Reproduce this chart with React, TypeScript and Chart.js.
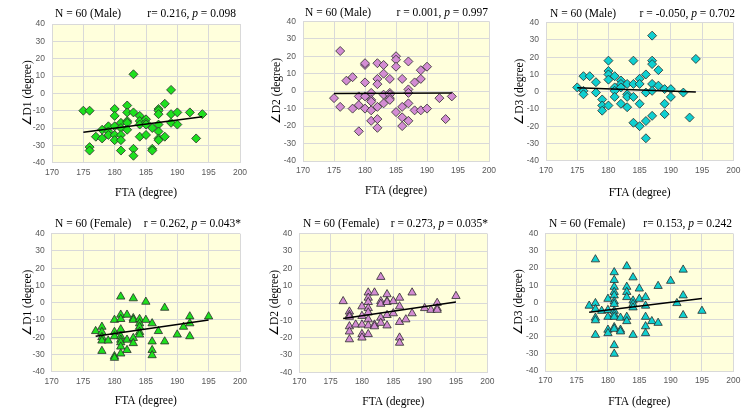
import React, { useEffect, useRef } from "react";
import { Chart, registerables } from "chart.js";
Chart.register(...registerables);

// ---------- data ----------
const xTicksMin = 170;
const xTicksMax = 200;
const xStep = 5;
const yTicksMin = -40;
const yTicksMax = 40;
const yStep = 10;

const maleD1_FTA = [175,176,176,176,177,178,178,179,179,179,180,180,180,180,180,181,181,181,181,181,182,182,182,182,182,183,183,183,183,184,184,184,184,185,185,185,185,186,186,186,187,187,187,187,187,187,187,188,188,189,189,189,190,190,192,193,194];
const maleD1 = [-10,-10,-31,-33,-25,-21,-26,-19,-22,-24,-9,-13,-19,-24,-27,-17,-20,-24,-27,-33,-7,-11,-16,-17,-21,11,-11,-32,-36,-13,-16,-18,-25,-15,-17,-18,-24,-20,-32,-33,-9,-10,-12,-18,-22,-26,-27,-6,-25,2,-12,-17,-11,-18,-11,-26,-12];
const maleD1TrendX = [175, 194];
const maleD1TrendY = [-22.5, -13.5];

const maleD2_FTA = [175,176,176,177,178,178,179,179,179,180,180,180,180,180,181,181,181,181,181,182,182,182,182,182,182,183,183,183,183,184,184,184,184,184,185,185,185,185,186,186,186,186,187,187,187,187,187,188,188,189,189,189,190,190,192,193,194];
const maleD2 = [-4,23,-9,6,8,-10,-3,-8,-23,15,16,5,-3,-10,-1,-5,-6,-11,-17,16,7,4,-9,-16,-21,15,10,-2,-7,7,-1,-2,-4,-5,20,18,14,-12,7,-9,-15,-20,17,1,-1,-7,-17,5,-11,12,7,-11,14,-10,-4,-16,-3];
const maleD2TrendX = [175, 194];
const maleD2TrendY = [-1.3, -1.0];

const maleD3_FTA = [175,176,176,176,177,178,178,179,179,179,180,180,180,180,180,181,181,181,181,182,182,182,182,183,183,183,183,184,184,184,184,185,185,185,185,186,186,186,186,187,187,187,187,187,187,188,188,189,189,189,190,190,192,193,194];
const maleD3 = [2.5,9,0.5,-1.5,9,5.5,-0.5,-4.5,-8,-11,18,12,10,7,-8,9,2.5,0.5,-3,6.5,4.5,2.5,-7,4.5,-1.5,-3,-9,18,4.5,-3,-18,7.5,4.5,-7,-20,10,-0.5,-17,-27,32.5,18,16,4.5,0.5,-14,12.5,3.5,1.5,-7,-13,1.5,-3,-0.5,-15,19];
const maleD3TrendX = [175, 194];
const maleD3TrendY = [2.3, -0.2];

const femaleD1_FTA = [177,178,178,178,178,178,179,180,180,180,180,180,181,181,181,181,181,181,181,181,181,182,182,182,183,183,183,183,183,184,184,184,184,184,185,185,186,186,186,186,187,188,188,190,191,192,192,192,195];
const femaleD1 = [-16.5,-14,-17,-20,-22,-28,-22,-10,-17,-19.5,-31,-32,3.5,-7,-9.5,-15.5,-19.5,-21.5,-23,-25.5,-29.5,-7,-21.5,-27.5,2.5,-9,-10,-20.5,-23.5,-9.5,-12,-14,-17,-18.5,0.5,-10,-12,-22.5,-27.5,-30.5,-16.5,-3,-22.5,-18.5,-14,-8,-12,-19.5,-8];
const femaleD1TrendX = [177, 195];
const femaleD1TrendY = [-19.5, -10];

const femaleD2_FTA = [177,178,178,178,178,178,178,179,180,180,180,180,180,181,181,181,181,181,181,181,181,182,182,182,183,183,183,183,183,184,184,184,184,184,185,185,186,186,186,186,186,187,188,188,190,191,192,192,192,195];
const femaleD2 = [1,-5,-7,-8,-13.5,-16.5,-21,-12.5,-7.5,-2,-12.5,-18,-20,6,3,0.5,-3,-5.5,-9.5,-13,-18,6,-12.5,-13.5,15,1,-0.5,-8.5,-11.5,5,1,0.5,-7,-13,1,-6,3,-2,-11,-20,-23,-9.5,6,-6,-3,-4,0,-3,-4,4];
const femaleD2TrendX = [177, 195];
const femaleD2TrendY = [-9, 0.6];

const femaleD3_FTA = [177,178,178,178,178,178,178,179,180,180,180,180,180,181,181,181,181,181,181,181,181,181,181,181,181,181,181,182,182,182,183,183,183,183,183,183,184,184,184,184,184,185,185,186,186,186,186,186,187,188,188,190,191,192,192,192,195];
const femaleD3 = [-2,25,-0.5,-4,-9,-10.5,-19,-5,2,-4.5,-8.5,-16,-18,17.5,13,9,6,4,0.5,-1,-5,-7,-8.5,-14.5,-15.5,-25,-30,-9,-16,-17,21,9,6,3,-8.5,-11,14.5,1,-1,-3,-19,8,2,3,-2,-8.5,-14,-18,-11,9.5,-12,12.5,-0.5,19,4,-7.5,-5];
const femaleD3TrendX = [177, 195];
const femaleD3TrendY = [-5.7, 2.3];

const headerLeftMale = "N = 60 (Male)";
const headerLeftFemale = "N = 60 (Female)";
const xTitleText = "FTA (degree)";

// ---------- styling / layout ----------
const SERIF = "'Liberation Serif', 'Times New Roman', serif";
const SANS = "'Liberation Sans', Arial, sans-serif";
const TITLE_SIZE = 11.5;
const TITLE_LH = 1.2;
const PLOT_BG = "#FFFFDC";
const GRID = "#D9D9D9";
const TICK_COLOR = "#595959";

type Rect = { x: number; y: number; w: number; h: number };
type Area = { l: number; t: number; r: number; b: number };
type Seg = { text: string; italic?: boolean };

type Panel = {
  xs: number[];
  ys: number[];
  tx: number[];
  ty: number[];
  fill: string;
  style: "rectRot" | "triangle";
  radius: number;
  yTitle: string;
  headerLeft: string;
  headerRight: Seg[];
  rect: Rect;
  area: Area;
  yTitleX: number;
  xTitleY: number;
  headerY: number;
  headerLX: number;
  headerRX: number;
};

const panels: Panel[] = [
  {
    xs: maleD1_FTA, ys: maleD1, tx: maleD1TrendX, ty: maleD1TrendY,
    fill: "#1EE01E", style: "rectRot", radius: 4.5, yTitle: "∠D1 (degree)",
    headerLeft: headerLeftMale,
    headerRight: [{ text: "r= 0.216, " }, { text: "p", italic: true }, { text: " = 0.098" }],
    rect: { x: 0, y: 0, w: 250, h: 207 }, area: { l: 52, t: 24, r: 240, b: 162.7 },
    yTitleX: 28, xTitleY: 192.7, headerY: 14, headerLX: 55, headerRX: 236,
  },
  {
    xs: maleD2_FTA, ys: maleD2, tx: maleD2TrendX, ty: maleD2TrendY,
    fill: "#D38CD3", style: "rectRot", radius: 4.5, yTitle: "∠D2 (degree)",
    headerLeft: headerLeftMale,
    headerRight: [{ text: "r = 0.001, " }, { text: "p", italic: true }, { text: " = 0.997" }],
    rect: { x: 250, y: 0, w: 250, h: 207 }, area: { l: 303, t: 21.3, r: 489, b: 161 },
    yTitleX: 277, xTitleY: 190.5, headerY: 12.5, headerLX: 305, headerRX: 488,
  },
  {
    xs: maleD3_FTA, ys: maleD3, tx: maleD3TrendX, ty: maleD3TrendY,
    fill: "#10D0D0", style: "rectRot", radius: 4.5, yTitle: "∠D3 (degree)",
    headerLeft: headerLeftMale,
    headerRight: [{ text: "r = -0.050, " }, { text: "p", italic: true }, { text: " = 0.702" }],
    rect: { x: 500, y: 0, w: 250, h: 207 }, area: { l: 546, t: 22.7, r: 733.3, b: 160.7 },
    yTitleX: 519.5, xTitleY: 192.7, headerY: 13.5, headerLX: 550, headerRX: 735,
  },
  {
    xs: femaleD1_FTA, ys: femaleD1, tx: femaleD1TrendX, ty: femaleD1TrendY,
    fill: "#1EE01E", style: "triangle", radius: 4.8, yTitle: "∠D1 (degree)",
    headerLeft: headerLeftFemale,
    headerRight: [{ text: "r = 0.262, " }, { text: "p", italic: true }, { text: " = 0.043*" }],
    rect: { x: 0, y: 207, w: 250, h: 208 }, area: { l: 51.7, t: 233.7, r: 240, b: 371.7 },
    yTitleX: 28, xTitleY: 401, headerY: 223.5, headerLX: 55, headerRX: 241,
  },
  {
    xs: femaleD2_FTA, ys: femaleD2, tx: femaleD2TrendX, ty: femaleD2TrendY,
    fill: "#D38CD3", style: "triangle", radius: 4.8, yTitle: "∠D2 (degree)",
    headerLeft: headerLeftFemale,
    headerRight: [{ text: "r = 0.273, " }, { text: "p", italic: true }, { text: " = 0.035*" }],
    rect: { x: 250, y: 207, w: 250, h: 208 }, area: { l: 299.3, t: 233.7, r: 487.3, b: 372.3 },
    yTitleX: 275, xTitleY: 401.5, headerY: 224, headerLX: 303, headerRX: 488,
  },
  {
    xs: femaleD3_FTA, ys: femaleD3, tx: femaleD3TrendX, ty: femaleD3TrendY,
    fill: "#10D0D0", style: "triangle", radius: 4.8, yTitle: "∠D3 (degree)",
    headerLeft: headerLeftFemale,
    headerRight: [{ text: "r= 0.153, " }, { text: "p", italic: true }, { text: " = 0.242" }],
    rect: { x: 500, y: 207, w: 250, h: 208 }, area: { l: 545.3, t: 233.7, r: 733.3, b: 371 },
    yTitleX: 518.5, xTitleY: 401.5, headerY: 224, headerLX: 549, headerRX: 732,
  },
];

function fontStr(italic: boolean) {
  return `${italic ? "italic " : ""}${TITLE_SIZE}px ${SERIF}`;
}

function makeChart(canvas: HTMLCanvasElement, p: Panel) {
  const lh = TITLE_SIZE * TITLE_LH;
  const yAxisW = p.area.l - p.rect.x;
  const xAxisH = p.rect.y + p.rect.h - p.area.b;

  const bgPlugin = {
    id: "plotBg",
    beforeDraw(chart: any) {
      const { ctx, chartArea } = chart;
      ctx.save();
      ctx.fillStyle = PLOT_BG;
      ctx.fillRect(chartArea.left, chartArea.top, chartArea.right - chartArea.left, chartArea.bottom - chartArea.top);
      ctx.restore();
    },
  };

  const headerPlugin = {
    id: "header",
    afterDraw(chart: any) {
      const ctx = chart.ctx as CanvasRenderingContext2D;
      ctx.save();
      ctx.fillStyle = "#000";
      ctx.textBaseline = "middle";
      const y = p.headerY - p.rect.y;
      ctx.font = fontStr(false);
      ctx.textAlign = "left";
      ctx.fillText(p.headerLeft, p.headerLX - p.rect.x, y);
      // right header, measured right-to-left
      let widths = p.headerRight.map((s) => {
        ctx.font = fontStr(!!s.italic);
        return ctx.measureText(s.text).width;
      });
      const total = widths.reduce((a, b) => a + b, 0);
      let x = p.headerRX - p.rect.x - total;
      p.headerRight.forEach((s, i) => {
        ctx.font = fontStr(!!s.italic);
        ctx.fillText(s.text, x, y);
        x += widths[i];
      });
      ctx.restore();
    },
  };

  return new Chart(canvas, {
    type: "scatter",
    data: {
      datasets: [
        {
          type: "line",
          data: p.tx.map((x, i) => ({ x, y: p.ty[i] })),
          borderColor: "#000000",
          borderWidth: 1.5,
          pointRadius: 0,
          fill: false,
          order: 0,
        } as any,
        {
          type: "scatter",
          data: p.xs.map((x, i) => ({ x, y: p.ys[i] })),
          pointStyle: p.style,
          pointRadius: p.radius,
          pointBackgroundColor: p.fill,
          pointBorderColor: "#2B2B2B",
          pointBorderWidth: 0.8,
          order: 1,
        },
      ],
    },
    options: {
      responsive: false,
      animation: false,
      devicePixelRatio: 1,
      layout: {
        padding: { left: 0, bottom: 0, top: p.area.t - p.rect.y, right: p.rect.x + p.rect.w - p.area.r },
      },
      plugins: {
        legend: { display: false },
        tooltip: { enabled: false },
        title: { display: false },
      },
      scales: {
        x: {
          type: "linear",
          min: xTicksMin,
          max: xTicksMax,
          ticks: {
            stepSize: xStep,
            color: TICK_COLOR,
            font: { family: SANS, size: 8.5 },
            padding: 4.5,
          },
          grid: { color: GRID, lineWidth: 1, drawTicks: false },
          border: { display: true, color: GRID },
          title: {
            display: true,
            text: xTitleText,
            color: "#000",
            font: { family: SERIF, size: TITLE_SIZE, lineHeight: TITLE_LH },
            padding: { top: 0, bottom: p.rect.y + p.rect.h - p.xTitleY - lh / 2 },
          },
          afterFit(scale: any) {
            scale.height = xAxisH;
            scale.paddingLeft = 0;
            scale.paddingRight = 0;
          },
        },
        y: {
          type: "linear",
          min: yTicksMin,
          max: yTicksMax,
          ticks: {
            stepSize: yStep,
            color: TICK_COLOR,
            font: { family: SANS, size: 8.5 },
            padding: 7,
          },
          grid: { color: GRID, lineWidth: 1, drawTicks: false },
          border: { display: true, color: GRID },
          title: {
            display: true,
            text: p.yTitle,
            color: "#000",
            font: { family: SERIF, size: TITLE_SIZE, lineHeight: TITLE_LH },
            padding: { top: p.yTitleX - p.rect.x - lh / 2, bottom: 0 },
          },
          afterFit(scale: any) {
            scale.width = yAxisW;
            scale.paddingTop = 0;
            scale.paddingBottom = 0;
          },
        },
      },
    } as any,
    plugins: [bgPlugin, headerPlugin],
  });
}

function PanelChart({ p }: { p: Panel }) {
  const ref = useRef<HTMLCanvasElement | null>(null);
  useEffect(() => {
    if (!ref.current) return;
    const c = makeChart(ref.current, p);
    return () => c.destroy();
  }, [p]);
  return (
    <canvas
      ref={ref}
      width={p.rect.w}
      height={p.rect.h}
      style={{ position: "absolute", left: p.rect.x, top: p.rect.y, width: p.rect.w, height: p.rect.h }}
    />
  );
}

export default function App() {
  return (
    <div style={{ position: "absolute", left: 0, top: 0, width: 750, height: 415, background: "#fff", overflow: "hidden" }}>
      {panels.map((p, i) => (
        <PanelChart key={i} p={p} />
      ))}
    </div>
  );
}
